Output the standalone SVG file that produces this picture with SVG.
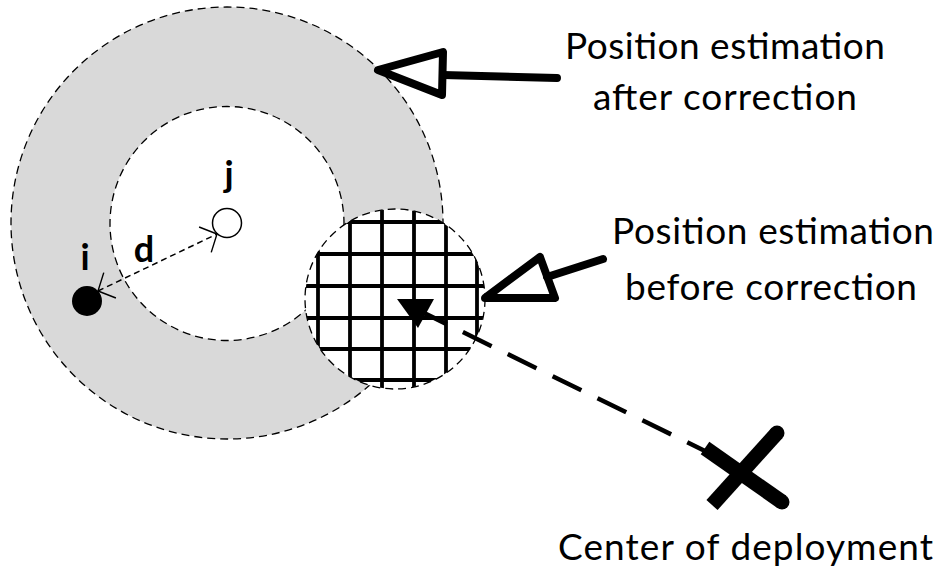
<svg xmlns="http://www.w3.org/2000/svg" width="941" height="577" viewBox="0 0 941 577">
<style>
.ring{stroke:#000;stroke-width:1.3;stroke-dasharray:8 5}
.grid line{stroke:#000;stroke-width:3.8}
.hollow{fill:none;stroke:#000;stroke-width:8;stroke-linejoin:round;stroke-linecap:round}
.lbl{font-family:Lato,"Liberation Sans",sans-serif;font-size:37px;fill:#000}
.bold{font-family:Lato,"Liberation Sans",sans-serif;font-size:36px;font-weight:bold;fill:#000}
</style>
<defs>
<clipPath id="hclip"><circle cx="395" cy="299" r="90"/></clipPath>
<marker id="vhead" markerUnits="userSpaceOnUse" markerWidth="18" markerHeight="30" viewBox="0 0 16 32" refX="15" refY="16" orient="auto-start-reverse">
<path d="M1,1 L15,16 L1,31" fill="none" stroke="#000" stroke-width="1.5" stroke-dasharray="none"/>
</marker>
</defs>
<rect width="941" height="577" fill="#fff"/>
<g id="outer-ring"><circle cx="227" cy="223" r="216" fill="#d9d9d9" class="ring"/></g>
<g id="inner-circle"><circle cx="227" cy="223.5" r="117" fill="#fff" class="ring"/></g>
<g id="hatched-area">
<circle cx="395" cy="299" r="90" fill="#fff"/>
<g class="grid" clip-path="url(#hclip)">
<line x1="318" y1="200" x2="318" y2="400"/>
<line x1="350" y1="200" x2="350" y2="400"/>
<line x1="382" y1="200" x2="382" y2="400"/>
<line x1="414" y1="200" x2="414" y2="400"/>
<line x1="446" y1="200" x2="446" y2="400"/>
<line x1="477" y1="200" x2="477" y2="400"/>
<line x1="300" y1="222" x2="490" y2="222"/>
<line x1="300" y1="254" x2="490" y2="254"/>
<line x1="300" y1="286" x2="490" y2="286"/>
<line x1="300" y1="318" x2="490" y2="318"/>
<line x1="300" y1="349" x2="490" y2="349"/>
<line x1="300" y1="380" x2="490" y2="380"/>
</g>
<circle cx="395" cy="299" r="90" fill="none" class="ring"/>
<polygon id="estimate-marker" points="397,299 434,299 418,328" fill="#000"/>
</g>
<g id="node-i"><circle cx="87" cy="301" r="15" fill="#000"/><text class="bold" x="85" y="270" text-anchor="middle">i</text></g>
<g id="node-j"><circle cx="227" cy="223" r="14.5" fill="#fff" stroke="#000" stroke-width="1.5"/><text class="bold" x="229" y="187" text-anchor="middle">j</text></g>
<g id="label-d"><text class="bold" x="144" y="262" text-anchor="middle">d</text></g>
<g id="center-x">
<line x1="705" y1="448" x2="782" y2="502" stroke="#000" stroke-width="15"/>
<line x1="712" y1="505" x2="777" y2="433" stroke="#000" stroke-width="15"/>
<circle cx="782" cy="502" r="7.5" fill="#000"/>
<circle cx="777" cy="433" r="7.5" fill="#000"/>
</g>
<g id="connectors">
<line id="d-arrow" x1="98" y1="291" x2="217" y2="234" stroke="#000" stroke-width="1.5" stroke-dasharray="6 4" marker-start="url(#vhead)" marker-end="url(#vhead)"/>
<line id="deploy-line" x1="418" y1="310" x2="707" y2="452" stroke="#000" stroke-width="4.5" stroke-dasharray="32 18"/>
<g id="arrow-after" class="hollow"><polygon points="378,70 443,52 442,95"/><line x1="443" y1="75" x2="557" y2="78"/></g>
<g id="arrow-before" class="hollow"><polygon points="485,298 540,257 555,298"/><line x1="547" y1="277" x2="603" y2="259"/></g>
</g>
<g id="label-after">
<text class="lbl" x="565" y="59" textLength="320">Position estimation</text>
<text class="lbl" x="593" y="110" textLength="264">after correction</text>
</g>
<g id="label-before">
<text class="lbl" x="612" y="244" textLength="322">Position estimation</text>
<text class="lbl" x="625" y="300" textLength="292">before correction</text>
</g>
<g id="label-center">
<text class="lbl" x="558" y="560" textLength="375">Center of deployment</text>
</g>
</svg>
